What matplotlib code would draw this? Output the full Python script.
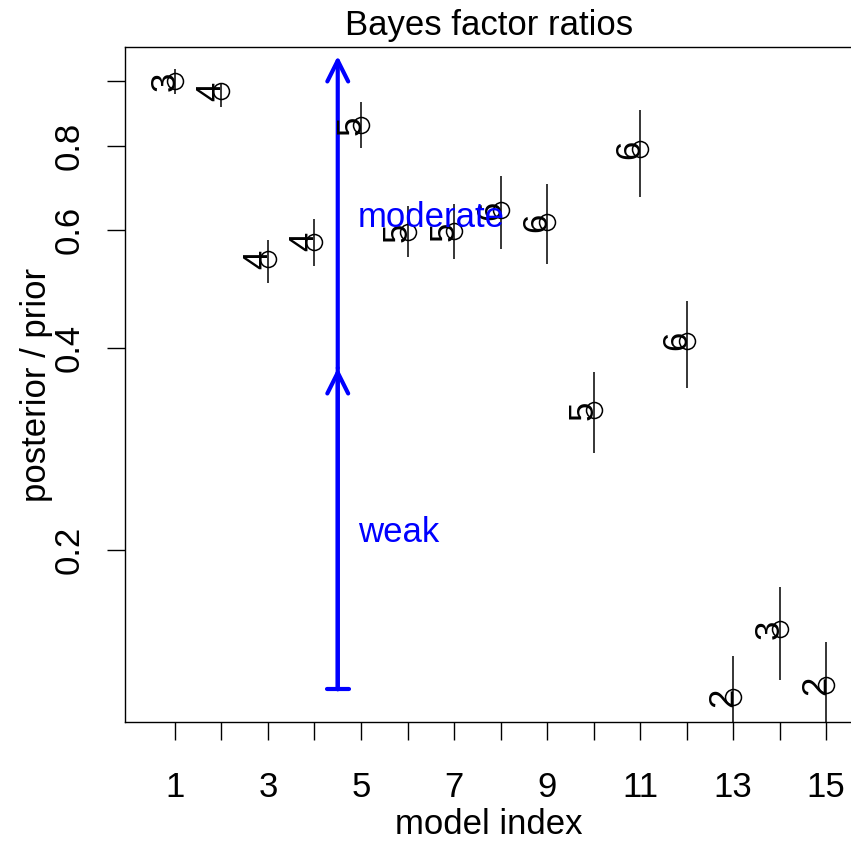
import matplotlib
matplotlib.use("Agg")
import matplotlib.pyplot as plt
from matplotlib.ticker import FixedLocator, NullLocator, FixedFormatter

plt.rcParams["font.family"] = ["Liberation Sans", "DejaVu Sans"]

# 数据：模型序号、比值估计、误差区间、模型大小标签
model_idx = list(range(1, 16))
ratio = [1.000, 0.966, 0.543, 0.576, 0.860, 0.596, 0.598, 0.642,
         0.616, 0.323, 0.792, 0.410, 0.1208, 0.1525, 0.1258]
ratio_lo = [0.956, 0.915, 0.500, 0.530, 0.795, 0.547, 0.543, 0.562,
            0.534, 0.279, 0.672, 0.349, 0.101, 0.128, 0.105]
ratio_hi = [1.042, 0.993, 0.580, 0.623, 0.930, 0.651, 0.656, 0.722,
            0.702, 0.368, 0.905, 0.470, 0.139, 0.176, 0.146]
model_size = ["3", "4", "4", "4", "5", "5", "5", "6", "6", "5", "6", "6", "2", "3", "2"]

# 证据强度箭头
evidence_x = 4.5
evidence_levels = [0.124, 0.3735, 1.09]
evidence_labels = ["weak", "moderate"]
evidence_label_y = [0.212, 0.627]

y_ticks = [0.2, 0.4, 0.6, 0.8, 1.0]
y_ticklabels = ["0.2", "0.4", "0.6", "0.8", ""]

FS = 25
W, H = 851, 843
fig = plt.figure(figsize=(W / 100, H / 100), dpi=100)
left, right, top, bottom = 125, 853, 47, 722
ax = fig.add_axes([left / W, 1 - bottom / H, (right - left) / W, (bottom - top) / H])

ax.set_yscale("log")
ax.set_xlim(-0.075, 15.58)
ax.set_ylim(0.1108, 1.124)

# 误差线
ax.vlines(model_idx, ratio_lo, ratio_hi, color="black", lw=1.1, zorder=2)
# 空心圆点
ax.plot(model_idx, ratio, "o", ms=11.5, mfc="none", mec="black", mew=1.1, zorder=3)
# 旋转的模型大小标签
for x, y, s in zip(model_idx, ratio, model_size):
    ax.annotate(s, (x, y), xytext=(4.5, 0), textcoords="offset points",
                rotation=90, ha="right", va="center", fontsize=FS, zorder=4)

# 箭头
blue = "#0000ff"
ax.annotate("", xy=(evidence_x, evidence_levels[1]), xytext=(evidence_x, evidence_levels[0]),
            arrowprops=dict(arrowstyle="|-|,widthA=0.8,widthB=0", lw=3.0, color=blue,
                            shrinkA=0, shrinkB=0, capstyle="round"))
for a, b in [(0, 1), (1, 2)]:
    ax.annotate("", xy=(evidence_x, evidence_levels[b]), xytext=(evidence_x, evidence_levels[a]),
                arrowprops=dict(arrowstyle="->,head_length=0.6,head_width=0.3", lw=3.0,
                                color=blue, shrinkA=0, shrinkB=0, mutation_scale=25,
                                capstyle="round", joinstyle="round"))
for lab, ly in zip(evidence_labels, evidence_label_y):
    ax.text(4.93, ly, lab, color=blue, fontsize=FS, ha="left", va="center", zorder=5)

# 坐标轴
ax.xaxis.set_major_locator(FixedLocator(model_idx))
ax.set_xticklabels([str(i) if i % 2 == 1 else "" for i in model_idx])
ax.yaxis.set_major_locator(FixedLocator(y_ticks))
ax.yaxis.set_major_formatter(FixedFormatter(y_ticklabels))
ax.yaxis.set_minor_locator(NullLocator())
ax.tick_params(axis="both", which="major", direction="out", length=13, width=1.0,
               labelsize=FS)
ax.tick_params(axis="x", pad=22.5)
ax.tick_params(axis="y", pad=15)
for lab in ax.get_yticklabels():
    lab.set_rotation(90)
    lab.set_va("center")
for sp in ax.spines.values():
    sp.set_linewidth(1.0)

ax.set_title("Bayes factor ratios", fontsize=FS, pad=9)
ax.set_xlabel("model index", fontsize=FS)
ax.xaxis.set_label_coords(0.5, (bottom - 824) / (bottom - top))
ax.xaxis.label.set_va("center")
ax.set_ylabel("posterior / prior", fontsize=FS)
ax.yaxis.set_label_coords((36 - left) / (right - left), 0.5)
ax.yaxis.label.set_va("center")

fig.savefig("out.png", dpi=100)
